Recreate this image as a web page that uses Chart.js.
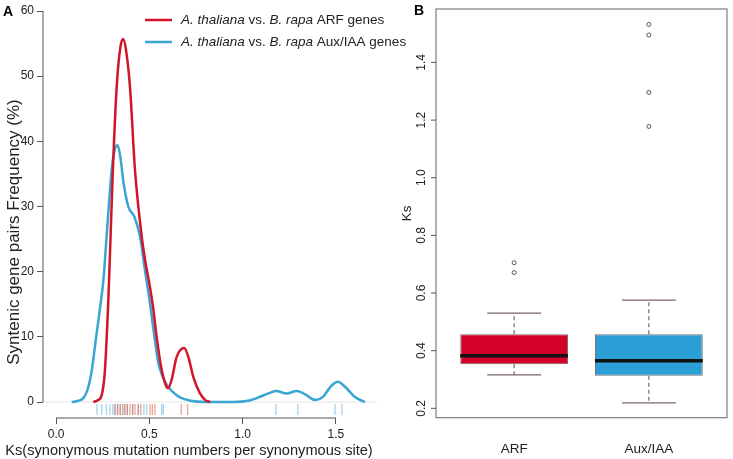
<!DOCTYPE html>
<html>
<head>
<meta charset="utf-8">
<script src="https://cdn.jsdelivr.net/npm/chart.js@4"></script>
<style>
  html, body { margin: 0; padding: 0; background: #fff; }
  #wrap { position: relative; width: 733px; height: 459px; }
  #chartA { position: absolute; left: 0; top: 0; }
  #chartB { position: absolute; left: 380px; top: 0; }
</style>
</head>
<body>
<div id="wrap">
  <canvas id="chartA" width="420" height="459"></canvas>
  <canvas id="chartB" width="353" height="459"></canvas>
</div>
<script>
const FONT = "'Liberation Sans', Arial, sans-serif";
const RED = '#d3142b';
const BLUE = '#38a5d2';
const TEXT = '#222';

// Panel A: Ks density curves (percent)
const arfKs =      [0.20, 0.225, 0.245, 0.262, 0.28, 0.289, 0.305, 0.325, 0.345, 0.36, 0.375, 0.396, 0.423, 0.459, 0.477, 0.503, 0.52, 0.539, 0.566, 0.585, 0.60, 0.62, 0.646, 0.687, 0.71, 0.735, 0.77, 0.80, 0.825];
const arfDensity = [0,    0.3,   1.1,   4.9,   15.6, 22.8,  36,    48.4,  54.5,  55.7, 54,    48.4,  35.6,  25.4,  21.8,  17.7,  14.5, 10,    4.9,   2.8,   2.1,  3.5,  6.9,   8.3,   6.8,  3.9,   1.4,  0.3,  0];
const auxKs =      [0.084, 0.12, 0.146, 0.17, 0.19, 0.215, 0.236, 0.253, 0.275, 0.298, 0.315, 0.33, 0.345, 0.36, 0.387, 0.42, 0.45, 0.475, 0.503, 0.525, 0.548, 0.566, 0.59, 0.61, 0.64, 0.664, 0.72, 0.8, 0.95, 1.03, 1.075, 1.146, 1.18, 1.235, 1.29, 1.34, 1.39, 1.43, 1.47, 1.51, 1.55, 1.6, 1.655];
const auxDensity = [0,     0.2,  0.6,   2.0,  4.6,  10,    14.5,  18.5,  27,    35.6,  38.8,  39.4, 37.5,  34,   30,    28.4, 25.4, 20.5,  15.2,  10.5,  6,     4.3,   2.8,  2.0,  1.2,  0.7,   0.2,  0.02, 0.02, 0.2,  0.6,   1.4,   1.7,  1.3,   1.7,  1.1,  0.3,  0.8,  2.3,  3.1,  2.3,  0.8, 0];
const arfRug = [0.316, 0.33, 0.343, 0.357, 0.37, 0.382, 0.396, 0.41, 0.423, 0.44, 0.454, 0.504, 0.516, 0.53, 0.671, 0.705];
const auxRug = [0.219, 0.245, 0.27, 0.289, 0.304, 0.316, 0.329, 0.345, 0.365, 0.382, 0.411, 0.441, 0.471, 0.486, 0.566, 0.575, 1.178, 1.296, 1.495, 1.532];
const xTicksA = [0, 0.5, 1, 1.5];
const yTicksA = [0, 10, 20, 30, 40, 50, 60];

// Panel B: Ks box plots
const boxCategories = ['ARF', 'Aux/IAA'];
const boxQ1 = [0.353, 0.313];
const boxQ3 = [0.457, 0.457];
const boxMedian = [0.382, 0.365];
const whiskerLow = [0.316, 0.219];
const whiskerHigh = [0.53, 0.575];
const arfOutliers = [0.671, 0.705];
const auxOutliers = [1.178, 1.296, 1.495, 1.532];
const yTicksB = [0.2, 0.4, 0.6, 0.8, 1.0, 1.2, 1.4];

function seg(ctx, x1, y1, x2, y2) {
  ctx.beginPath();
  ctx.moveTo(x1, y1);
  ctx.lineTo(x2, y2);
  ctx.stroke();
}

// legend text with italic species names
function drawRichText(ctx, parts, x, y, size) {
  let cx = x;
  parts.forEach(([txt, italic]) => {
    ctx.font = (italic ? 'italic ' : '') + size + 'px ' + FONT;
    ctx.fillText(txt, cx, y);
    cx += ctx.measureText(txt).width;
  });
}

const panelA = {
  id: 'panelA',
  beforeDatasetsDraw(chart) {
    const {ctx, chartArea: a, scales: {y}} = chart;
    ctx.save();
    ctx.strokeStyle = '#e6e6e6';
    ctx.lineWidth = 1;
    const y0 = y.getPixelForValue(0);
    seg(ctx, a.left, y0, a.right, y0);
    ctx.restore();
  },
  afterDraw(chart) {
    const {ctx, chartArea: a, scales: {x, y}} = chart;
    ctx.save();
    // axis lines only over the tick range
    ctx.strokeStyle = '#555';
    ctx.lineWidth = 1;
    seg(ctx, a.left, y.getPixelForValue(0), a.left, y.getPixelForValue(60));
    seg(ctx, x.getPixelForValue(0), a.bottom, x.getPixelForValue(1.5), a.bottom);

    // rug
    ctx.lineWidth = 1.3;
    const rugTop = a.bottom - 14, rugBot = a.bottom - 3;
    auxRug.forEach(v => {
      ctx.strokeStyle = 'rgba(56,165,210,0.45)';
      const px = x.getPixelForValue(v);
      seg(ctx, px, rugTop, px, rugBot);
    });
    arfRug.forEach(v => {
      ctx.strokeStyle = 'rgba(225,70,40,0.5)';
      const px = x.getPixelForValue(v);
      seg(ctx, px, rugTop, px, rugBot);
    });

    // axis titles
    ctx.fillStyle = TEXT;
    ctx.textAlign = 'center';
    ctx.textBaseline = 'middle';
    ctx.font = '14.6px ' + FONT;
    ctx.fillText('Ks(synonymous mutation numbers per synonymous site)', 189, 451);
    ctx.save();
    ctx.translate(14, 232);
    ctx.rotate(-Math.PI / 2);
    ctx.font = '17px ' + FONT;
    ctx.fillText('Syntenic gene pairs Frequency (%)', 0, 0);
    ctx.restore();

    // legend
    ctx.textAlign = 'left';
    ctx.lineWidth = 2.5;
    ctx.strokeStyle = RED;
    seg(ctx, 145, 20, 172, 20);
    ctx.strokeStyle = BLUE;
    seg(ctx, 145, 42, 172, 42);
    drawRichText(ctx, [['A. thaliana', true], [' vs. ', false], ['B. rapa', true], [' ARF genes', false]], 181, 20, 13.5);
    drawRichText(ctx, [['A. thaliana', true], [' vs. ', false], ['B. rapa', true], [' Aux/IAA genes', false]], 181, 42, 13.5);

    // panel letter
    ctx.font = 'bold 14px ' + FONT;
    ctx.textBaseline = 'alphabetic';
    ctx.fillStyle = '#000';
    ctx.fillText('A', 3, 16);
    ctx.restore();
  }
};

const panelB = {
  id: 'panelB',
  afterDatasetsDraw(chart) {
    const {ctx, scales: {y}} = chart;
    const bars = chart.getDatasetMeta(0).data;
    ctx.save();
    bars.forEach((bar, i) => {
      const {x: bx, width: w} = bar.getProps(['x', 'width'], true);
      // whiskers
      ctx.strokeStyle = '#7a6666';
      ctx.lineWidth = 1.2;
      ctx.setLineDash([4, 3]);
      seg(ctx, bx, y.getPixelForValue(boxQ3[i]), bx, y.getPixelForValue(whiskerHigh[i]));
      seg(ctx, bx, y.getPixelForValue(boxQ1[i]), bx, y.getPixelForValue(whiskerLow[i]));
      ctx.setLineDash([]);
      seg(ctx, bx - w / 4, y.getPixelForValue(whiskerHigh[i]), bx + w / 4, y.getPixelForValue(whiskerHigh[i]));
      seg(ctx, bx - w / 4, y.getPixelForValue(whiskerLow[i]), bx + w / 4, y.getPixelForValue(whiskerLow[i]));
      // median
      ctx.strokeStyle = '#111';
      ctx.lineWidth = 3.5;
      const my = y.getPixelForValue(boxMedian[i]);
      seg(ctx, bx - w / 2, my, bx + w / 2, my);
    });
    ctx.restore();
  },
  afterDraw(chart) {
    const {ctx, chartArea: a, scales: {y}} = chart;
    ctx.save();
    ctx.strokeStyle = '#7d7d7d';
    ctx.lineWidth = 1.2;
    ctx.strokeRect(a.left, a.top, a.right - a.left, a.bottom - a.top);
    // y ticks, labels parallel to the axis
    ctx.fillStyle = TEXT;
    ctx.font = '12px ' + FONT;
    ctx.textAlign = 'center';
    ctx.textBaseline = 'middle';
    yTicksB.forEach(v => {
      const py = y.getPixelForValue(v);
      ctx.strokeStyle = '#555';
      ctx.lineWidth = 1;
      seg(ctx, a.left - 5, py, a.left, py);
      ctx.save();
      ctx.translate(a.left - 14, py);
      ctx.rotate(-Math.PI / 2);
      ctx.fillText(v.toFixed(1), 0, 0);
      ctx.restore();
    });
    ctx.font = 'bold 14px ' + FONT;
    ctx.textAlign = 'left';
    ctx.textBaseline = 'alphabetic';
    ctx.fillStyle = '#000';
    ctx.fillText('B', 34, 15);
    ctx.restore();
  }
};

new Chart(document.getElementById('chartA'), {
  type: 'line',
  data: {
    datasets: [
      {
        label: 'ARF',
        data: arfKs.map((v, i) => ({x: v, y: arfDensity[i]})),
        borderColor: RED,
        borderWidth: 2.5,
        pointRadius: 0,
        cubicInterpolationMode: 'monotone',
        fill: false,
      },
      {
        label: 'Aux/IAA',
        data: auxKs.map((v, i) => ({x: v, y: auxDensity[i]})),
        borderColor: BLUE,
        borderWidth: 2.5,
        pointRadius: 0,
        cubicInterpolationMode: 'monotone',
        fill: false,
      },
    ],
  },
  options: {
    responsive: false,
    animation: false,
    events: [],
    layout: {padding: {top: 11, right: 43, left: 0, bottom: 0}},
    plugins: {legend: {display: false}, tooltip: {enabled: false}},
    scales: {
      x: {
        type: 'linear',
        min: -0.07,
        max: 1.72,
        afterBuildTicks: s => { s.ticks = xTicksA.map(v => ({value: v})); },
        afterFit: s => { s.height = 41; },
        border: {display: false},
        grid: {drawOnChartArea: false, drawTicks: true, tickLength: 6, color: '#555'},
        ticks: {font: {family: FONT, size: 12}, color: TEXT, padding: 3, maxRotation: 0, autoSkip: false, callback: v => v.toFixed(1)},
      },
      y: {
        type: 'linear',
        min: -2.45,
        max: 60,
        afterBuildTicks: s => { s.ticks = yTicksA.map(v => ({value: v})); },
        afterFit: s => { s.width = 43; },
        border: {display: false},
        grid: {drawOnChartArea: false, drawTicks: true, tickLength: 6, color: '#555'},
        ticks: {font: {family: FONT, size: 12}, color: TEXT, padding: 3},
      },
    },
  },
  plugins: [panelA],
});

new Chart(document.getElementById('chartB'), {
  type: 'bar',
  data: {
    datasets: [
      {
        type: 'bar',
        data: boxQ1.map((q, i) => ({x: i + 1, y: [q, boxQ3[i]]})),
        backgroundColor: ['#d4002a', '#2b9fd6'],
        borderColor: '#806a6a',
        borderWidth: 1,
        borderSkipped: false,
        barPercentage: 0.8,
        categoryPercentage: 1,
      },
      {
        type: 'line',
        showLine: false,
        data: arfOutliers.map(v => ({x: 1, y: v})).concat(auxOutliers.map(v => ({x: 2, y: v}))),
        pointRadius: 2,
        pointBorderWidth: 1,
        pointBorderColor: '#555',
        pointBackgroundColor: 'rgba(0,0,0,0)',
      },
    ],
  },
  options: {
    responsive: false,
    animation: false,
    events: [],
    layout: {padding: {top: 9, right: 6, left: 0, bottom: 0}},
    plugins: {legend: {display: false}, tooltip: {enabled: false}},
    scales: {
      x: {
        type: 'linear',
        min: 0.42,
        max: 2.58,
        offset: false,
        afterBuildTicks: s => { s.ticks = boxCategories.map((c, i) => ({value: i + 1})); },
        afterFit: s => { s.height = 41.3; },
        grid: {display: false},
        border: {display: false},
        ticks: {font: {family: FONT, size: 13.5}, color: TEXT, padding: 15, maxRotation: 0, autoSkip: false, callback: v => boxCategories[v - 1]},
      },
      y: {
        min: 0.1674,
        max: 1.5854,
        afterFit: s => { s.width = 56; },
        grid: {display: false},
        border: {display: false},
        ticks: {display: false},
        title: {display: true, text: 'Ks', font: {family: FONT, size: 13.5}, color: TEXT, padding: {top: 19, bottom: 0}},
      },
    },
  },
  plugins: [panelB],
});
</script>
</body>
</html>
